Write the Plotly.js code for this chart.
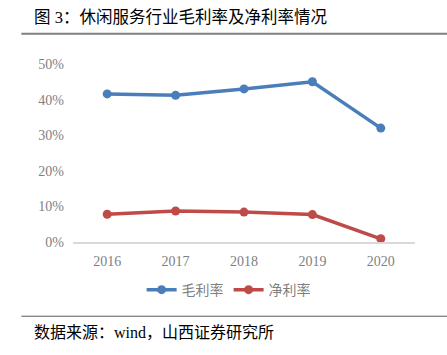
<!DOCTYPE html>
<html><head><meta charset="utf-8">
<script src="https://cdn.plot.ly/plotly-3.0.1.min.js"></script>
<style>html,body{margin:0;padding:0;background:#fff}#c{width:447px;height:355px}</style>
</head><body><div id="c"></div>
<script>
const years = ['2016','2017','2018','2019','2020'];
const grossMargin = [0.416, 0.412, 0.430, 0.450, 0.320];
const netMargin = [0.078, 0.087, 0.084, 0.077, 0.009];
const seriesNames = ['毛利率','净利率'];
const cjk = '"Liberation Serif", "Noto Sans CJK SC", serif';
const serif = '"Liberation Serif", "DejaVu Serif", serif';
const traces = [
  {x: years, y: grossMargin, name: seriesNames[0], type: 'scatter', mode: 'lines+markers',
   line: {color: '#4A7EBB', width: 3.5}, marker: {color: '#4A7EBB', size: 9}},
  {x: years, y: netMargin, name: seriesNames[1], type: 'scatter', mode: 'lines+markers',
   line: {color: '#BE4B48', width: 3.5}, marker: {color: '#BE4B48', size: 9}}
];
const layout = {
  width: 447, height: 355,
  margin: {l: 73, r: 32, t: 64, b: 113},
  paper_bgcolor: '#fff', plot_bgcolor: '#fff',
  showlegend: true,
  legend: {orientation: 'h', x: 0.455, xanchor: 'center', y: -0.18, yanchor: 'top',
    font: {family: '"Noto Sans CJK SC", sans-serif', size: 14, color: '#7F7F7F'}, itemwidth: 30},
  xaxis: {type: 'category', range: [-0.5, 4.5], showgrid: false, zeroline: false,
    showline: true, linecolor: '#D9D9D9', linewidth: 2, ticks: '',
    tickfont: {family: serif, size: 14, color: '#7F7F7F'}, ticklabelstandoff: 5},
  yaxis: {range: [0, 0.5], dtick: 0.1, tickformat: '.0%', showgrid: false, zeroline: false,
    showline: false, ticks: '', tickfont: {family: serif, size: 14, color: '#7F7F7F'},
    ticklabelstandoff: 8},
  shapes: [
    {type: 'line', xref: 'paper', yref: 'paper', x0: -0.151, x1: 1.1, y0: 1.17, y1: 1.17,
     line: {color: '#7F7F7F', width: 2}},
    {type: 'line', xref: 'paper', yref: 'paper', x0: -0.151, x1: 1.1, y0: -0.417, y1: -0.417,
     line: {color: '#595959', width: 1}}
  ],
  annotations: [
    {text: '图 3：休闲服务行业毛利率及净利率情况', xref: 'paper', yref: 'paper',
     x: -0.12, xanchor: 'left', y: 1.262, yanchor: 'middle', showarrow: false,
     font: {family: cjk, size: 16.5, color: '#000'}},
    {text: '数据来源：wind，山西证券研究所', xref: 'paper', yref: 'paper',
     x: -0.12, xanchor: 'left', y: -0.51, yanchor: 'middle', showarrow: false,
     font: {family: cjk, size: 16, color: '#000'}}
  ]
};
Plotly.newPlot('c', traces, layout, {displayModeBar: false, staticPlot: true});
</script></body></html>
